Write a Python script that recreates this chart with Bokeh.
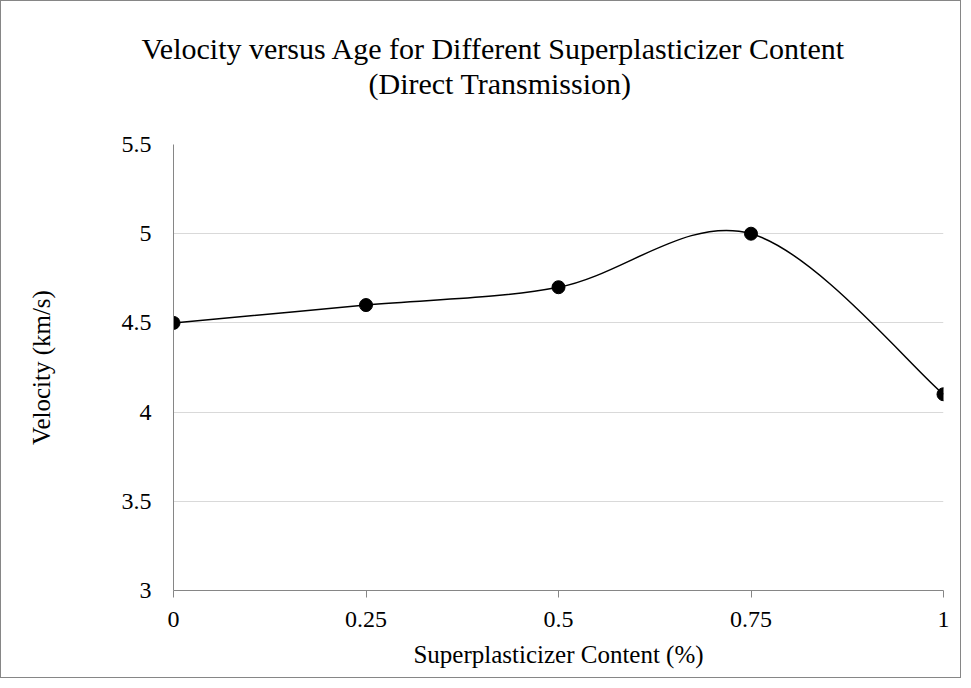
from bokeh.plotting import figure
from bokeh.models import Title, FixedTicker, ColumnDataSource, Range1d
from bokeh.embed import file_html
from bokeh.resources import INLINE

# ---- data ----
content = [0, 0.25, 0.5, 0.75, 1]
velocity = [4.5, 4.6, 4.7, 5.0, 4.1]
x_ticks = [0, 0.25, 0.5, 0.75, 1]
x_tick_labels = ["0", "0.25", "0.5", "0.75", "1"]
y_ticks = [3, 3.5, 4, 4.5, 5, 5.5]
y_tick_labels = ["3", "3.5", "4", "4.5", "5", "5.5"]
title_line1 = "Velocity versus Age for Different Superplasticizer Content"
title_line2 = "(Direct Transmission)"

FONT = "Liberation Serif"
W, H = 961, 678

p = figure(width=W, height=H, output_backend="svg", toolbar_location=None,
           x_range=Range1d(0, 1), y_range=Range1d(3, 5.5),
           min_border_left=172, min_border_right=19,
           min_border_top=143, min_border_bottom=89)
p.styles = {"border": "1px solid #868686"}
p.outline_line_color = None
p.background_fill_color = "white"
p.border_fill_color = "white"

# grid
p.xgrid.grid_line_color = None
p.ygrid.grid_line_color = "#d9d9d9"
p.ygrid.grid_line_width = 1
p.ygrid.ticker = FixedTicker(ticks=y_ticks)

# x axis
xa = p.xaxis[0]
xa.ticker = FixedTicker(ticks=x_ticks)
xa.major_label_overrides = dict(zip(x_ticks, x_tick_labels))
xa.axis_line_color = "#868686"
xa.major_tick_line_color = "#868686"
xa.major_tick_out = 7
xa.major_tick_in = 0
xa.minor_tick_line_color = None
xa.major_label_text_font = FONT
xa.major_label_text_font_size = "24px"
xa.major_label_text_color = "#000000"
xa.major_label_standoff = 14
xa.axis_label = "Superplasticizer Content (%)"
xa.axis_label_text_font = FONT
xa.axis_label_text_font_size = "25px"
xa.axis_label_text_font_style = "normal"
xa.axis_label_text_color = "#000000"
xa.axis_label_standoff = 11

# y axis
ya = p.yaxis[0]
ya.ticker = FixedTicker(ticks=y_ticks)
ya.major_label_overrides = dict(zip(y_ticks, y_tick_labels))
ya.axis_line_color = "#868686"
ya.major_tick_line_color = None
ya.major_tick_out = 0
ya.major_tick_in = 0
ya.minor_tick_line_color = None
ya.major_label_text_font = FONT
ya.major_label_text_font_size = "24px"
ya.major_label_text_color = "#000000"
ya.major_label_standoff = 22
ya.axis_label = "Velocity (km/s)"
ya.axis_label_text_font = FONT
ya.axis_label_text_font_size = "25px"
ya.axis_label_text_font_style = "normal"
ya.axis_label_text_color = "#000000"
ya.axis_label_standoff = 64

# smoothed line (Catmull-Rom style Bezier segments, as in spreadsheet smoothing)
n = len(content)
def pt(i):
    i = max(0, min(n - 1, i))
    return content[i], velocity[i]
seg = dict(x0=[], y0=[], x1=[], y1=[], cx0=[], cy0=[], cx1=[], cy1=[])
for i in range(n - 1):
    xp, yp = pt(i - 1)
    xb, yb = pt(i)
    xc, yc = pt(i + 1)
    xd, yd = pt(i + 2)
    seg["x0"].append(xb); seg["y0"].append(yb)
    seg["x1"].append(xc); seg["y1"].append(yc)
    seg["cx0"].append(xb + (xc - xp) / 6.0); seg["cy0"].append(yb + (yc - yp) / 6.0)
    seg["cx1"].append(xc - (xd - xb) / 6.0); seg["cy1"].append(yc - (yd - yb) / 6.0)
p.bezier(x0="x0", y0="y0", x1="x1", y1="y1", cx0="cx0", cy0="cy0", cx1="cx1", cy1="cy1",
         source=ColumnDataSource(seg), line_color="black", line_width=1.5)

p.scatter(x=content, y=velocity, size=13, marker="circle",
          fill_color="black", line_color="black")

# title: spacer, then second line, then first line (stacked upward from the frame)
p.add_layout(Title(text=" ", text_font_size="10px", standoff=32), "above")
p.add_layout(Title(text=title_line2, align="left", offset=195, text_font=FONT,
                   text_font_size="30px", text_font_style="normal", text_color="#000000",
                   standoff=0), "above")
p.add_layout(Title(text=title_line1, align="left", offset=-32, text_font=FONT,
                   text_font_size="30px", text_font_style="normal", text_color="#000000",
                   standoff=0), "above")

open("out.html", "w").write(file_html(p, INLINE))
